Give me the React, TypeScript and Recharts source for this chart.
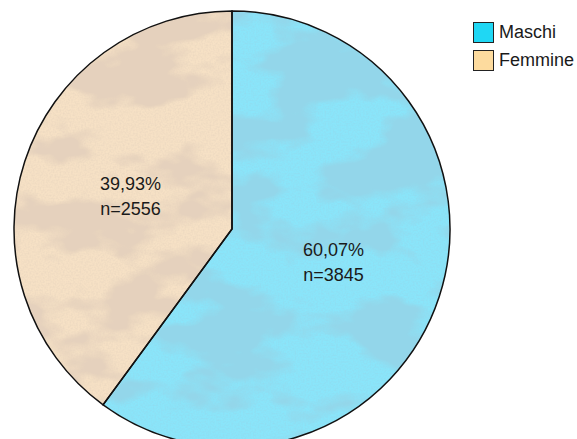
import { PieChart, Pie, Cell, Legend } from 'recharts';

const categories = ['Maschi', 'Femmine'];
const counts = [3845, 2556];

const sliceColors = ['#8ae5fa', '#f6e1c5'];
const spotColors = ['#4aacd1', '#c8a381'];
const swatchColors = ['#1fd7f4', '#fddb9e'];

const data = categories.map((name, i) => ({ name, value: counts[i] }));

const RADIAN = Math.PI / 180;
const FONT = 'Arial, "Liberation Sans", sans-serif';

const fmtPct = (p: number) => (p * 100).toFixed(2).replace('.', ',') + '%';

function SliceLabel(props: any) {
    const { cx, cy, midAngle, outerRadius, percent, value } = props;
    const r = outerRadius * 0.49;
    const x = cx + r * Math.cos(-midAngle * RADIAN);
    const y = cy + r * Math.sin(-midAngle * RADIAN);
    return (
        <text x={x} y={y} textAnchor="middle" fill="#1a1a1a" fontSize={18} fontFamily={FONT}>
            <tspan x={x} dy={-6}>{fmtPct(percent)}</tspan>
            <tspan x={x} dy={25}>{`n=${value}`}</tspan>
        </text>
    );
}

function LegendBox() {
    return (
        <div style={{ fontFamily: FONT, fontSize: 18, color: '#1a1a1a' }}>
            {categories.map((name, i) => (
                <div key={name} style={{ display: 'flex', alignItems: 'center', height: 28 }}>
                    <span
                        style={{
                            display: 'inline-block',
                            width: 19,
                            height: 19,
                            background: swatchColors[i],
                            border: '1.5px solid #222',
                            marginRight: 5,
                        }}
                    />
                    <span>{name}</span>
                </div>
            ))}
        </div>
    );
}

export default function App() {
    return (
        <div style={{ position: 'absolute', left: 0, top: 0, width: 577, height: 439, background: '#fff' }}>
            <svg width={0} height={0} style={{ position: 'absolute' }}>
                <defs>
                    {spotColors.map((c, i) => {
                        const hex = c.slice(1);
                        const rr = parseInt(hex.slice(0, 2), 16) / 255;
                        const gg = parseInt(hex.slice(2, 4), 16) / 255;
                        const bb = parseInt(hex.slice(4, 6), 16) / 255;
                        return (
                            <filter id={`clouds${i}`} key={c} x="-5%" y="-5%" width="110%" height="110%">
                                <feTurbulence type="fractalNoise" baseFrequency="0.011 0.02" numOctaves={4} seed={i * 7 + 3} result="noise" />
                                <feColorMatrix
                                    in="noise"
                                    type="matrix"
                                    values={`0 0 0 0 ${rr}  0 0 0 0 ${gg}  0 0 0 0 ${bb}  7 0 0 0 -3.1`}
                                    result="spots"
                                />
                                <feTurbulence type="fractalNoise" baseFrequency="0.6" numOctaves={1} seed={i + 11} result="grain" />
                                <feColorMatrix
                                    in="grain"
                                    type="matrix"
                                    values={`0 0 0 0 ${rr}  0 0 0 0 ${gg}  0 0 0 0 ${bb}  1.2 0 0 0 -0.45`}
                                    result="speck"
                                />
                                <feMerge result="tex">
                                    <feMergeNode in="spots" />
                                    <feMergeNode in="speck" />
                                </feMerge>
                                <feComposite in="tex" in2="SourceGraphic" operator="in" result="clipped" />
                                <feMerge>
                                    <feMergeNode in="SourceGraphic" />
                                    <feMergeNode in="clipped" />
                                </feMerge>
                            </filter>
                        );
                    })}
                </defs>
            </svg>
            <PieChart width={577} height={439} margin={{ top: 0, right: 0, bottom: 0, left: 0 }}>
                <Pie
                    data={data}
                    dataKey="value"
                    nameKey="name"
                    cx={232}
                    cy={229}
                    outerRadius={218}
                    startAngle={90}
                    endAngle={-270}
                    stroke="none"
                    labelLine={false}
                    isAnimationActive={false}
                >
                    {data.map((d, i) => (
                        <Cell key={d.name} fill={sliceColors[i]} filter={`url(#clouds${i})`} />
                    ))}
                </Pie>
                <Pie
                    data={data}
                    dataKey="value"
                    nameKey="name"
                    cx={232}
                    cy={229}
                    outerRadius={218}
                    startAngle={90}
                    endAngle={-270}
                    fill="none"
                    stroke="#111"
                    strokeWidth={1.5}
                    legendType="none"
                    label={SliceLabel}
                    labelLine={false}
                    isAnimationActive={false}
                />
                <Legend
                    content={() => <LegendBox />}
                    wrapperStyle={{ left: 473, top: 18, width: 104 }}
                />
            </PieChart>
        </div>
    );
}
